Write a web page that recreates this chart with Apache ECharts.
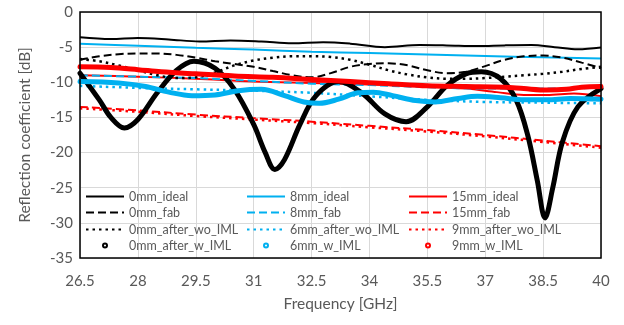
<!DOCTYPE html>
<html>
<head>
<meta charset="utf-8">
<script src="https://cdn.jsdelivr.net/npm/echarts@6/dist/echarts.min.js"></script>
<style>html,body{margin:0;padding:0;background:#fff}#c{width:624px;height:325px}</style>
</head>
<body>
<div id="c"></div>
<script>
// x tick labels (GHz)
const xTicks = [26.5, 28, 29.5, 31, 32.5, 34, 35.5, 37, 38.5, 40];

// series names (legend order)
const names = ['0mm_ideal','8mm_ideal','15mm_ideal',
               '0mm_fab','8mm_fab','15mm_fab',
               '0mm_after_wo_IML','6mm_after_wo_IML','9mm_after_wo_IML',
               '0mm_after_w_IML','6mm_w_IML','9mm_w_IML'];

// [frequency GHz, reflection dB]
const d0mmIdeal = [[26.5,-3.6],[27.3,-3.85],[28.0,-3.7],[28.8,-3.9],[29.6,-4.2],[30.4,-4.05],[31.2,-4.2],[32.0,-4.45],[32.8,-4.3],[33.5,-4.5],[34.4,-5.0],[35.3,-4.7],[36.0,-4.75],[36.8,-4.85],[37.5,-4.75],[38.2,-4.7],[38.8,-5.0],[39.4,-5.3],[40,-5.05]];
const d8mmIdeal = [[26.5,-4.5],[28,-4.8],[29.5,-5.1],[31,-5.35],[32.5,-5.65],[34,-5.85],[35.5,-6.05],[37,-6.25],[38.5,-6.45],[40,-6.6]];
const d15mmIdeal = [[26.5,-9.0],[28,-9.2],[29.5,-9.5],[31,-9.9],[32.5,-10.1],[34,-10.3],[35.5,-10.6],[36.5,-10.9],[37.3,-11.4],[38,-11.8],[38.6,-11.8],[39.3,-11.6],[40,-12.0]];
const d0mmFab = [[26.5,-6.8],[27,-6.3],[27.5,-6.0],[28,-5.9],[28.5,-5.9],[29,-6.1],[29.5,-6.5],[30,-7.0],[30.5,-7.4],[31,-7.8],[31.5,-8.4],[32,-9.0],[32.5,-9.3],[33,-8.7],[33.5,-7.8],[34,-7.4],[34.5,-7.3],[35,-7.6],[35.5,-8.3],[36,-8.7],[36.5,-8.5],[37,-7.7],[37.5,-6.8],[38,-6.3],[38.5,-6.2],[39,-6.5],[39.5,-7.2],[40,-8.0]];
const d8mmFab = [[26.5,-9.0],[28,-9.2],[29.5,-9.4],[31,-9.8],[32.5,-10.2],[34,-10.4],[35.5,-10.7],[37,-10.9],[38.5,-10.9],[40,-10.8]];
const d15mmFab = [[26.5,-13.5],[28,-14.0],[29.5,-14.6],[31,-15.1],[32.5,-15.6],[34,-16.2],[35.5,-16.8],[37,-17.5],[38.5,-18.3],[40,-19.1]];
const d0mmAfterWo = [[26.5,-6.7],[27,-7.0],[27.5,-7.6],[28,-8.3],[28.5,-9.0],[29,-9.4],[29.5,-9.3],[30,-8.6],[30.5,-7.6],[31,-6.9],[31.5,-6.5],[32,-6.3],[32.5,-6.3],[33,-6.4],[33.5,-6.8],[34,-7.5],[34.5,-8.3],[35,-8.9],[35.5,-9.3],[36,-9.5],[36.5,-9.5],[37,-9.4],[37.5,-9.2],[38,-9.0],[38.5,-8.8],[39,-8.5],[39.5,-8.1],[40,-7.8]];
const d6mmAfterWo = [[26.5,-10.5],[28,-10.8],[29.5,-11.0],[31,-11.2],[32.5,-11.5],[34,-12.0],[35.5,-12.5],[37,-12.8],[38.5,-12.9],[40,-13.0]];
const d9mmAfterWo = [[26.5,-13.7],[28,-14.2],[29.5,-14.8],[31,-15.3],[32.5,-15.8],[34,-16.4],[35.5,-17.0],[37,-17.7],[38.5,-18.5],[40,-19.3]];
const d0mmAfterW = [[26.5,-8.7],[27.0,-12.5],[27.3,-15.0],[27.65,-16.5],[28.0,-15.3],[28.5,-11.5],[29.0,-8.3],[29.45,-7.0],[30.0,-8.0],[30.5,-11.0],[31.0,-16.0],[31.3,-20.0],[31.55,-22.4],[31.8,-21.0],[32.2,-16.0],[32.6,-12.0],[33.2,-9.9],[33.8,-11.5],[34.4,-14.5],[34.95,-15.6],[35.5,-13.5],[36.0,-10.5],[36.5,-8.8],[36.9,-8.5],[37.4,-9.5],[37.8,-12.5],[38.1,-17.5],[38.35,-24.0],[38.55,-29.3],[38.75,-25.0],[39.0,-18.5],[39.4,-13.5],[40.0,-10.9]];
const d6mmW = [[26.5,-9.9],[27.5,-10.1],[28.2,-10.6],[28.8,-11.4],[29.4,-11.9],[30.0,-11.8],[30.6,-11.2],[31.2,-11.0],[31.8,-11.9],[32.3,-12.8],[32.7,-13.0],[33.2,-12.4],[33.7,-11.5],[34.1,-11.4],[34.6,-11.9],[35.2,-12.6],[35.7,-12.8],[36.3,-12.3],[36.8,-12.0],[37.4,-12.2],[38.0,-12.5],[38.6,-12.5],[39.2,-12.3],[40,-12.4]];
const d9mmW = [[26.5,-7.8],[27.3,-7.9],[28,-8.2],[28.6,-8.5],[29.5,-8.8],[30.5,-9.1],[31.5,-9.3],[32.5,-9.6],[33.5,-9.9],[34.5,-10.2],[35.5,-10.5],[36.5,-10.6],[37.5,-10.7],[38,-10.9],[38.6,-11.1],[39.1,-11.0],[39.5,-10.7],[40,-10.6]];

const BLACK = '#000000', BLUE = '#00B0F0', RED = '#FF0000';
const DASH = [8, 4], DOT = [2.5, 4];

const dataSets = [d0mmIdeal, d8mmIdeal, d15mmIdeal, d0mmFab, d8mmFab, d15mmFab,
                  d0mmAfterWo, d6mmAfterWo, d9mmAfterWo, d0mmAfterW, d6mmW, d9mmW];
const colors = [BLACK, BLUE, RED];
// row: 0 solid, 1 dashed, 2 dotted, 3 markers (thick)
function styleFor(i) {
  const row = Math.floor(i / 3), col = i % 3;
  const c = colors[col];
  if (row === 0) return {color: c, width: 2, type: 'solid', marker: false};
  if (row === 1) return {color: c, width: 2, type: DASH, marker: false};
  if (row === 2) return {color: c, width: 2.5, type: DOT, marker: false};
  return {color: c, width: 5, type: 'solid', marker: true};
}

const series = names.map((n, i) => {
  const s = styleFor(i);
  return {
    name: n, type: 'line', data: dataSets[i], smooth: 0.35,
    symbol: s.marker ? 'emptyCircle' : 'none', showSymbol: false,
    itemStyle: {color: s.color},
    lineStyle: {color: s.color, width: s.width, type: s.type, cap: s.marker ? 'round' : 'butt'},
    emphasis: {disabled: true}, silent: true, z: 3
  };
});

const FONT = 'Lato';
const TXT = '#595959';
const colX = [85, 246, 408];
const rowY = [198, 214, 231, 247];
const legends = names.map((n, i) => {
  const s = styleFor(i);
  const row = Math.floor(i / 3), col = i % 3;
  const item = s.marker ? {name: n, lineStyle: {opacity: 0}} : {name: n, itemStyle: {opacity: 0}};
  return {
    data: [item], left: colX[col], top: rowY[row] - 8, padding: 0,
    itemWidth: 38, itemHeight: 5, selectedMode: false,
    textStyle: {fontFamily: FONT, fontSize: 12.5, color: TXT}
  };
});

const chart = echarts.init(document.getElementById('c'), null, {renderer: 'canvas'});
chart.setOption({
  animation: false,
  backgroundColor: '#fff',
  grid: {left: 80, right: 23, top: 12, bottom: 67, show: true, z: 10, borderColor: '#000', borderWidth: 1.5, backgroundColor: 'transparent'},
  legend: legends,
  xAxis: {
    type: 'value', min: 26.5, max: 40,
    name: 'Frequency [GHz]', nameLocation: 'middle', nameGap: 38,
    nameTextStyle: {fontFamily: FONT, fontSize: 15.5, color: TXT},
    axisLine: {show: false}, axisTick: {show: false, customValues: xTicks},
    axisLabel: {customValues: xTicks, fontFamily: FONT, fontSize: 15, color: TXT, margin: 16},
    splitLine: {show: true, customValues: xTicks, lineStyle: {color: '#D9D9D9', width: 1}}
  },
  yAxis: {
    type: 'value', min: -35, max: 0, interval: 5,
    name: 'Reflection coefficient [dB]', nameLocation: 'middle', nameGap: 47,
    nameTextStyle: {fontFamily: FONT, fontSize: 15.5, color: TXT},
    axisLine: {show: false}, axisTick: {show: false},
    axisLabel: {fontFamily: FONT, fontSize: 15, color: TXT, margin: 7},
    splitLine: {show: true, lineStyle: {color: '#D9D9D9', width: 1}}
  },
  series: series
});
</script>
</body>
</html>
